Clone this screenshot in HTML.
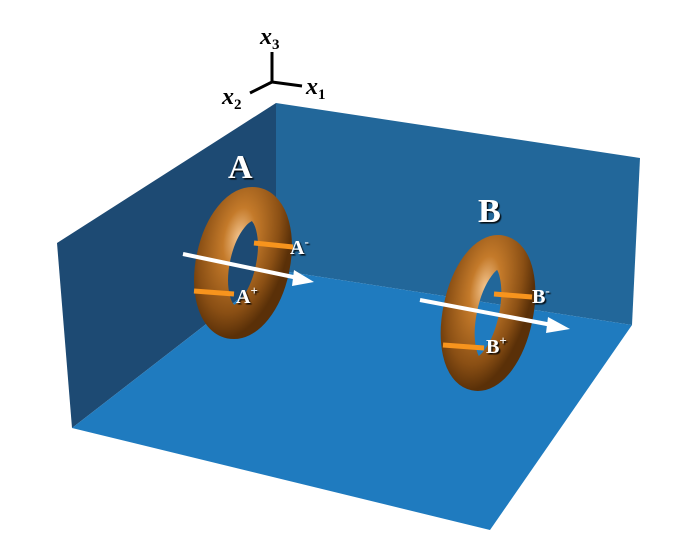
<!DOCTYPE html>
<html><head><style>body{margin:0;background:#fff}svg{display:block}</style></head><body>
<svg width="700" height="558" viewBox="0 0 700 558" xmlns="http://www.w3.org/2000/svg">
<defs>
<radialGradient id="tg" cx="0.35" cy="0.3" r="0.85">
<stop offset="0" stop-color="#f3c48e"/><stop offset="0.3" stop-color="#c47a2a"/><stop offset="0.75" stop-color="#8a4f14"/><stop offset="1" stop-color="#5a3008"/></radialGradient>
<filter id="sh"><feDropShadow dx="1.5" dy="1.5" stdDeviation="0.6" flood-color="#000" flood-opacity="0.9"/></filter>
</defs>
<polygon points="276,103 57,243 72,428 276,270" fill="#1d4a73"/>
<polygon points="276,103 640,158 632,325 276,270" fill="#22679a"/>
<polygon points="276,270 632,325 490,530 72,428" fill="#1f7bbf"/>
<g stroke="#000" stroke-width="3" fill="none"><line x1="272" y1="52" x2="272" y2="82"/><line x1="272" y1="82" x2="302" y2="86"/><line x1="272" y1="82" x2="250" y2="93"/></g>
<g font-family="Liberation Serif,serif" font-style="italic" font-size="24" font-weight="bold">
<text x="260" y="44">x<tspan font-size="15" font-style="normal" dy="5">3</tspan></text>
<text x="306" y="94">x<tspan font-size="15" font-style="normal" dy="5">1</tspan></text>
<text x="222" y="104">x<tspan font-size="15" font-style="normal" dy="5">2</tspan></text>
</g>
<g transform="rotate(12 243 263)">
<ellipse cx="243" cy="263" rx="30" ry="60" fill="none" stroke="url(#tg)" stroke-width="34"/>
</g>
<line x1="254" y1="243" x2="293" y2="247" stroke="#f7941d" stroke-width="5"/>
<line x1="194" y1="291" x2="234" y2="294" stroke="#f7941d" stroke-width="5"/>
<line x1="183" y1="254" x2="298" y2="278" stroke="#fff" stroke-width="4"/>
<polygon points="294,270 314,282 292,286" fill="#fff"/>
<g transform="rotate(12 488 313)">
<ellipse cx="488" cy="313" rx="28" ry="62" fill="none" stroke="url(#tg)" stroke-width="34"/>
</g>
<line x1="494" y1="294" x2="532" y2="297" stroke="#f7941d" stroke-width="5"/>
<line x1="443" y1="345" x2="484" y2="348" stroke="#f7941d" stroke-width="5"/>
<line x1="420" y1="300" x2="552" y2="325" stroke="#fff" stroke-width="4"/>
<polygon points="548,317 570,329 546,333" fill="#fff"/>
<g font-family="Liberation Serif,serif" fill="#fff" filter="url(#sh)" font-weight="bold">
<text x="228" y="178" font-size="34">A</text>
<text x="478" y="222" font-size="34">B</text>
<text x="290" y="254" font-size="20">A<tspan font-size="13" dy="-8">-</tspan></text>
<text x="236" y="303" font-size="20">A<tspan font-size="13" dy="-8">+</tspan></text>
<text x="532" y="303" font-size="20">B<tspan font-size="13" dy="-8">-</tspan></text>
<text x="486" y="353" font-size="20">B<tspan font-size="13" dy="-8">+</tspan></text>
</g>
</svg>
</body></html>
